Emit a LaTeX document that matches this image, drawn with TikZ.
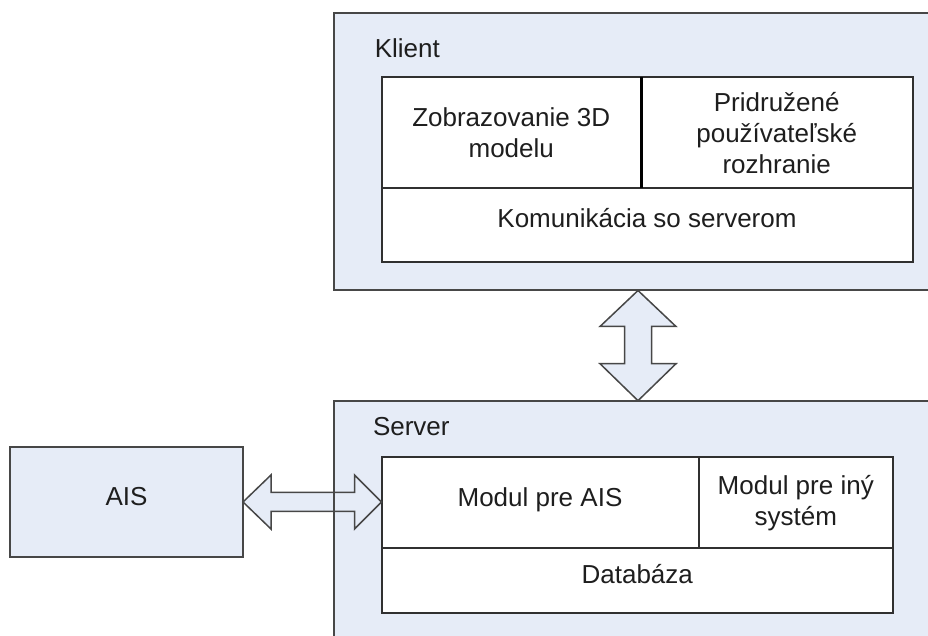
\documentclass[tikz,border=0pt]{standalone}
\usepackage{fontspec}
\setmainfont{Liberation Sans}
\usetikzlibrary{calc}
\definecolor{boxfill}{HTML}{E6ECF7}
\definecolor{boxline}{HTML}{474747}
\definecolor{cellline}{HTML}{303030}
\definecolor{txt}{HTML}{1E1E1E}
\tikzset{
  outerbox/.style={draw=boxline, fill=boxfill, line width=2pt, inner sep=0pt, outer sep=0pt},
  cell/.style={draw=cellline, fill=white, line width=2pt, inner sep=0pt, outer sep=0pt, align=center, text=txt},
  oneline/.style={text height=0.75em, text depth=0.25em},
  flatline/.style={text height=0.75em, text depth=0pt},
  lbl/.style={inner sep=0pt, text=txt, anchor=base west},
  fatarrow/.style={draw=boxline, fill=boxfill, line width=1.5pt, line join=miter},
}

\begin{document}
\begin{tikzpicture}[x=1pt, y=1pt, font=\fontsize{26}{31}\selectfont]
        \path[use as bounding box, clip] (0,0) rectangle (928,636);

        % outer boxes
        \node[outerbox, minimum width=608pt, minimum height=277.5pt] (klient) at (638,484.25) {};
        \node[outerbox, minimum width=608pt, minimum height=277.5pt] (server) at (638,96.55) {};
        \node[outerbox, flatline, text=txt, minimum width=233pt, minimum height=110pt] (ais) at (126.5,134) {AIS};
        \node[lbl] (klientlbl) at (374.6,578.7) {Klient};
        \node[lbl] (serverlbl) at (372.8,200.7) {Server};

        % klient
        \node[cell, minimum width=259.5pt, minimum height=110.8pt] (zobraz) at (511.25,503.1) {Zobrazovanie 3D\\modelu};
        \node[cell, minimum width=271.5pt, minimum height=110.8pt] (pridruz) at (776.75,503.1) {Pridružené\\používateľské\\rozhranie};
        \node[cell, oneline, minimum width=531pt, minimum height=73.7pt] (komunik) at (647,410.85) {Komunikácia so serverom};
        \draw[line width=3pt, black] (zobraz.north east) -- (zobraz.south east);

        % server
        \node[cell, flatline, minimum width=317pt, minimum height=91.3pt] (modais) at (540,133.35) {Modul pre AIS};
        \node[cell, minimum width=194.5pt, minimum height=91.3pt] (modiny) at (795.75,133.35) {Modul pre iný\\systém};
        \node[cell, oneline, minimum width=511.5pt, minimum height=65pt] (databaza) at (637.25,55.2) {Databáza};

        % arrows
        \draw[fatarrow] (klient.south) -- ++(38,-36) -- ++(-24.5,0)
          -- ($(server.north)+(13.5,37)$) -- ++(24.5,0) -- (server.north)
          -- ++(-38,37) -- ++(24.5,0) -- ($(klient.south)+(-13.5,-36)$) -- ++(-24.5,0) -- cycle;
        \coordinate (aistip) at (ais.east -| modais.west);
        \draw[fatarrow] (ais.east) -- ++(28,27) -- ++(0,-17.5)
          -- ($(aistip)+(-27,9.5)$) -- ++(0,17.5) -- (aistip)
          -- ++(-27,-27) -- ++(0,17.5) -- ($(ais.east)+(28,-9.5)$) -- ++(0,-17.5) -- cycle;
        \draw[boxline, line width=2pt] (server.north west) -- (server.south west);
\end{tikzpicture}
\end{document}
